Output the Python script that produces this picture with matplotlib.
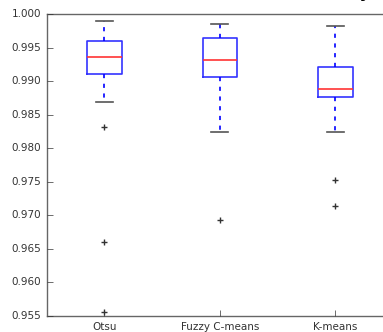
import matplotlib
matplotlib.use("Agg")
import matplotlib.pyplot as plt

plt.style.use("classic")

# box statistics
labels = ["Otsu", "Fuzzy C-means", "K-means"]
medians = [0.99364, 0.99315, 0.98883]
q1 = [0.99101, 0.99061, 0.98759]
q3 = [0.99598, 0.99647, 0.99210]
whislo = [0.98684, 0.98242, 0.98247]
whishi = [0.99891, 0.99846, 0.99826]
fliers = [[0.98311, 0.96598, 0.95555],
          [0.96935],
          [0.97531, 0.97139]]

stats = []
for i in range(len(labels)):
    stats.append(dict(label=labels[i], med=medians[i], q1=q1[i], q3=q3[i],
                      whislo=whislo[i], whishi=whishi[i], fliers=fliers[i]))

fig = plt.figure(figsize=(3.83, 3.32), dpi=100, facecolor="white")
ax = fig.add_axes([0.122, 0.048, 0.904, 0.91])
ax.bxp(stats, widths=0.3,
       boxprops=dict(color="#3333ff", linewidth=1.2),
       whiskerprops=dict(color="blue", linestyle=(0, (3, 4)), linewidth=1.2),
       capprops=dict(color="#555555", linewidth=1.2),
       medianprops=dict(color="#ff3333", linewidth=1.2),
       flierprops=dict(marker="+", markeredgecolor="#333333", markersize=5))

ax.set_ylim(0.955, 1.000)
ax.set_yticks([0.955 + 0.005 * k for k in range(10)])
ax.set_yticklabels(["%.3f" % (0.955 + 0.005 * k) for k in range(10)])
ax.set_xlim(0.5, 3.5)
ax.tick_params(labelsize=7.5, colors="#333333")
for s in ax.spines.values():
    s.set_color("#666666")
ax.xaxis.set_ticks_position("bottom")
ax.yaxis.set_ticks_position("left")

# title sits above the cropped image, only the descender shows
fig.text(0.971, 1.009, "Accuracy", ha="right", va="baseline",
         fontsize=12, fontweight="bold")

fig.savefig("out.png", dpi=100, facecolor="white")
